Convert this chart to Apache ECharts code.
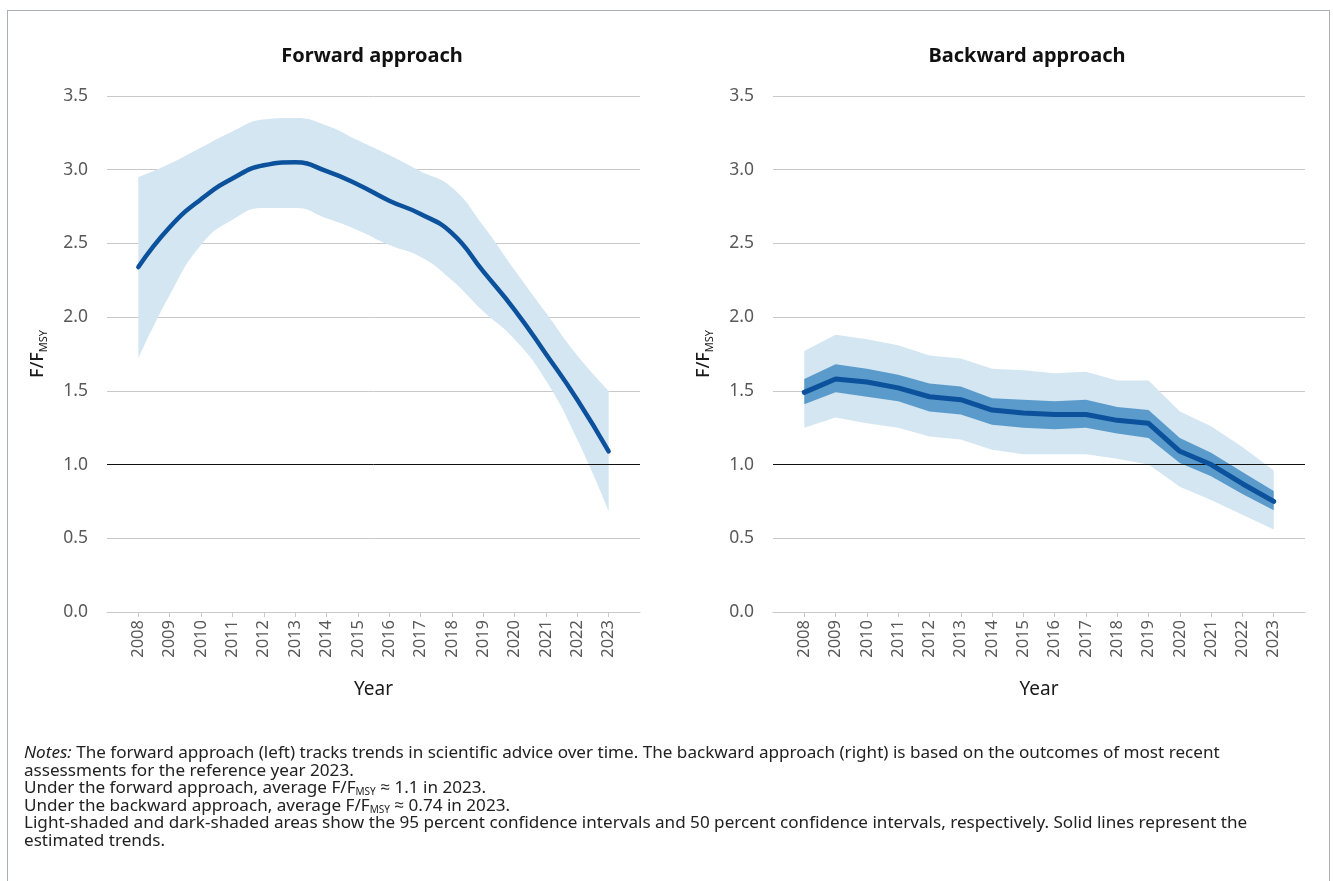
<!DOCTYPE html>
<html>
<head>
<meta charset="utf-8">
<script src="https://cdn.jsdelivr.net/npm/echarts@6/dist/echarts.min.js"></script>
<style>
  html, body { margin: 0; padding: 0; background: #fff; }
  #wrap { position: relative; width: 1333px; height: 881px; overflow: hidden; }
  #frame { position: absolute; left: 7px; top: 10px; width: 1323px; height: 890px;
           border: 1.5px solid #a7b0b6; border-bottom: none; box-sizing: border-box; }
  #chart { position: absolute; left: 0; top: 0; width: 1333px; height: 881px; }
  #notes { position: absolute; left: 24px; top: 743px; width: 1300px; white-space: nowrap;
           font-family: "Noto Sans", "Open Sans", sans-serif; font-size: 17.1px; line-height: 17.6px; color: #222; }
  #notes sub { font-size: 10px; vertical-align: -2px; line-height: 0; }
</style>
</head>
<body>
<div id="wrap">
  <div id="frame"></div>
  <div id="chart"></div>
  <div id="notes">
    <i>Notes:</i> The forward approach (left) tracks trends in scientific advice over time. The backward approach (right) is based on the outcomes of most recent<br>
    assessments for the reference year 2023.<br>
    Under the forward approach, average F/F<sub>MSY</sub> ≈ 1.1 in 2023.<br>
    Under the backward approach, average F/F<sub>MSY</sub> ≈ 0.74 in 2023.<br>
    Light-shaded and dark-shaded areas show the 95 percent confidence intervals and 50 percent confidence intervals, respectively. Solid lines represent the<br>
    estimated trends.
  </div>
</div>
<script>
// ---- data ----
const years = ['2008','2009','2010','2011','2012','2013','2014','2015','2016','2017','2018','2019','2020','2021','2022','2023'];
const yTicks = [0, 0.5, 1.0, 1.5, 2.0, 2.5, 3.0, 3.5];

// Forward approach
const fwdMid   = [2.34, 2.61, 2.80, 2.94, 3.03, 3.05, 2.99, 2.90, 2.79, 2.70, 2.57, 2.31, 2.05, 1.75, 1.44, 1.09];
const fwdUp95  = [2.95, 3.04, 3.15, 3.26, 3.34, 3.35, 3.30, 3.20, 3.10, 2.99, 2.88, 2.62, 2.32, 2.03, 1.74, 1.50];
const fwdLo95  = [1.72, 2.15, 2.49, 2.66, 2.74, 2.74, 2.67, 2.59, 2.49, 2.41, 2.25, 2.04, 1.85, 1.57, 1.17, 0.685];

// Backward approach
const bwdMid   = [1.49, 1.58, 1.56, 1.52, 1.46, 1.44, 1.37, 1.35, 1.34, 1.34, 1.30, 1.28, 1.09, 1.00, 0.87, 0.75];
const bwdUp50  = [1.58, 1.68, 1.65, 1.61, 1.55, 1.53, 1.45, 1.44, 1.43, 1.44, 1.39, 1.37, 1.18, 1.08, 0.95, 0.82];
const bwdLo50  = [1.41, 1.49, 1.46, 1.43, 1.36, 1.34, 1.27, 1.25, 1.24, 1.25, 1.21, 1.18, 1.01, 0.92, 0.80, 0.69];
const bwdUp95  = [1.77, 1.88, 1.85, 1.81, 1.74, 1.72, 1.65, 1.64, 1.62, 1.63, 1.57, 1.57, 1.36, 1.26, 1.12, 0.96];
const bwdLo95  = [1.25, 1.32, 1.28, 1.25, 1.19, 1.17, 1.10, 1.07, 1.07, 1.07, 1.04, 1.00, 0.85, 0.76, 0.66, 0.56];

// ---- helpers ----
const cats = [''].concat(years, ['']);
const pad = a => [null].concat(a, [null]);
const diff = (a, b) => a.map((v, i) => +(v - b[i]).toFixed(4));

const FONT = '"Noto Sans", "Open Sans", sans-serif';
const LIGHT = '#d4e6f2';
const DARK = '#5b9bcb';
const LINE = '#0c519c';
const GRID = '#c9c9c9';

function xAxis(gi) {
  return {
    type: 'category', gridIndex: gi, data: cats, boundaryGap: false,
    name: 'Year', nameLocation: 'middle', nameGap: 68,
    nameTextStyle: { fontFamily: FONT, fontSize: 19, color: '#1a1a1a' },
    axisLine: { lineStyle: { color: GRID, width: 1 } },
    axisTick: { show: true, length: 5, lineStyle: { color: GRID },
                interval: (i, v) => v !== '' },
    axisLabel: { interval: 0, rotate: 90, margin: 8, fontFamily: FONT, fontSize: 16.5, color: '#595959' },
    splitLine: { show: false }
  };
}
function yAxis(gi) {
  return {
    type: 'value', gridIndex: gi, min: yTicks[0], max: yTicks[yTicks.length - 1], interval: 0.5,
    name: '{a|F/F}{b|MSY}', nameLocation: 'middle', nameGap: 58, nameRotate: 90,
    nameTextStyle: { rich: {
      a: { fontFamily: FONT, fontSize: 18, fontWeight: 500, color: '#1a1a1a', lineHeight: 22 },
      b: { fontFamily: FONT, fontSize: 11, color: '#1a1a1a', lineHeight: 13, verticalAlign: 'bottom' }
    } },
    axisLine: { show: false }, axisTick: { show: false },
    axisLabel: { margin: 19, fontFamily: FONT, fontSize: 17.5, color: '#595959',
                 formatter: v => v.toFixed(1) },
    splitLine: { lineStyle: { color: GRID, width: 1 } }
  };
}
const refLine = {
  silent: true, symbol: ['none', 'none'], label: { show: false },
  lineStyle: { color: '#111', width: 1, type: 'solid' },
  data: [{ yAxis: 1 }]
};
const hidden = { opacity: 0, width: 0 };

const option = {
  animation: false,
  grid: [
    { left: 107, right: 693, top: 96, bottom: 269 },
    { left: 773, right: 28, top: 96, bottom: 269 }
  ],
  xAxis: [xAxis(0), xAxis(1)],
  yAxis: [yAxis(0), yAxis(1)],
  graphic: [
    { type: 'text', x: 372, y: 56, style: { text: 'Forward approach', align: 'center', verticalAlign: 'middle',
      fontFamily: FONT, fontSize: 20, fontWeight: 'bold', fill: '#111' } },
    { type: 'text', x: 1027, y: 56, style: { text: 'Backward approach', align: 'center', verticalAlign: 'middle',
      fontFamily: FONT, fontSize: 20, fontWeight: 'bold', fill: '#111' } }
  ],
  series: [
    // forward 95% band
    { type: 'line', xAxisIndex: 0, yAxisIndex: 0, stack: 'f95', smooth: true, symbol: 'none',
      data: pad(fwdLo95), lineStyle: hidden, markLine: refLine },
    { type: 'line', xAxisIndex: 0, yAxisIndex: 0, stack: 'f95', smooth: true, symbol: 'none',
      data: pad(diff(fwdUp95, fwdLo95)), lineStyle: hidden, areaStyle: { color: LIGHT, opacity: 1 } },
    { type: 'line', xAxisIndex: 0, yAxisIndex: 0, smooth: true, symbol: 'none',
      data: pad(fwdMid), lineStyle: { color: LINE, width: 4.5, cap: 'round' }, z: 5 },

    // backward 95% band
    { type: 'line', xAxisIndex: 1, yAxisIndex: 1, stack: 'b95', symbol: 'none',
      data: pad(bwdLo95), lineStyle: hidden, markLine: refLine },
    { type: 'line', xAxisIndex: 1, yAxisIndex: 1, stack: 'b95', symbol: 'none',
      data: pad(diff(bwdUp95, bwdLo95)), lineStyle: hidden, areaStyle: { color: LIGHT, opacity: 1 } },
    // backward 50% band
    { type: 'line', xAxisIndex: 1, yAxisIndex: 1, stack: 'b50', symbol: 'none',
      data: pad(bwdLo50), lineStyle: hidden, z: 3 },
    { type: 'line', xAxisIndex: 1, yAxisIndex: 1, stack: 'b50', symbol: 'none',
      data: pad(diff(bwdUp50, bwdLo50)), lineStyle: hidden, areaStyle: { color: DARK, opacity: 1 }, z: 3 },
    { type: 'line', xAxisIndex: 1, yAxisIndex: 1, symbol: 'none',
      data: pad(bwdMid), lineStyle: { color: LINE, width: 5, cap: 'round', join: 'round' }, z: 5 }
  ]
};
const chart = echarts.init(document.getElementById('chart'), null, { renderer: 'canvas' });
chart.setOption(option);
</script>
</body>
</html>
